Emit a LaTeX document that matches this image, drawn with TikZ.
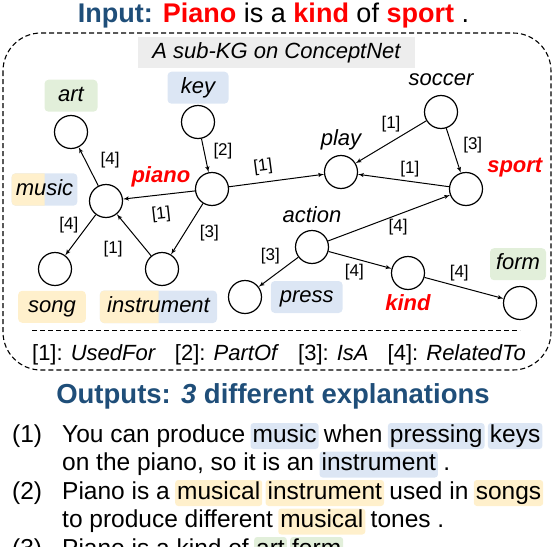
\documentclass[tikz,border=0pt]{standalone}
\usepackage{fontspec}
\setmainfont{Liberation Sans}
\usetikzlibrary{arrows,positioning,backgrounds}
\definecolor{titleblue}{HTML}{1F4E79}
\definecolor{hlblue}{HTML}{DCE6F4}
\definecolor{hlorange}{HTML}{FFF0CC}
\definecolor{hlgreen}{HTML}{E2EFDA}
\definecolor{kggray}{HTML}{EDEDED}
\tikzset{every picture/.style={
  >=latex'                      % LaTeX style arrows.
  }
}
\newcommand{\hot}[1]{\textcolor{red}{\textbf{#1}}}

\begin{document}
\begin{tikzpicture}[x=1pt,y=-1pt,
  ent/.style={circle, draw, line width=1.2pt, minimum size=33pt, inner sep=0pt},
  word/.style={font=\fontsize{22}{26}\selectfont\itshape, inner sep=1pt,
    text height=16pt, text depth=5pt},
  keyword/.style={word, text=red, font=\fontsize{22}{26}\selectfont\bfseries\itshape},
  tag/.style={word, rounded corners=4pt, inner xsep=8pt, inner ysep=5.5pt},
  rel/.style={font=\fontsize{17}{20}\selectfont, inner sep=1pt},
  link/.style={->, line width=1pt},
  txt/.style={anchor=base west, inner sep=0pt, font=\fontsize{24.5}{29}\selectfont},
  hl/.style={txt, rounded corners=3pt, inner xsep=2pt, inner ysep=2pt,
    text height=17pt, text depth=5pt}]
  \useasboundingbox (0,0) rectangle (554,546);
  \clip (0,0) rectangle (554,546);

  % input sentence
  \node[font=\fontsize{27}{32}\selectfont, anchor=base] (input) at (273.5,22)
    {\textcolor{titleblue}{\textbf{Input:}} \hot{Piano} is a \hot{kind} of \hot{sport} .};

  % sub-KG frame
  \draw[line width=1.1pt, dash pattern=on 5pt off 3pt, rounded corners=38pt]
    (3,33) rectangle (551,370);
  \node[word, fill=kggray, inner xsep=14.5pt, inner ysep=5pt] (kgtitle) at (276.5,52.5)
    {A sub-KG on ConceptNet};

  % concepts
  \node[ent] (art) at (71,132) {};
  \node[ent] (key) at (198,122) {};
  \node[ent] (music) at (106,201) {};
  \node[ent] (piano) at (212,189) {};
  \node[ent] (song) at (55,269) {};
  \node[ent] (instrument) at (162,269) {};
  \node[ent] (press) at (245,297) {};
  \node[ent] (action) at (312,247) {};
  \node[ent] (kind) at (408,273) {};
  \node[ent] (form) at (520,303) {};
  \node[ent] (play) at (341,172) {};
  \node[ent] (soccer) at (441,112) {};
  \node[ent] (sport) at (466,189) {};

  % concept names
  \node[tag, fill=hlgreen, minimum width=53pt] (artlab) [above=3pt of art] {art};
  \node[tag, fill=hlblue, minimum width=61pt] (keylab) [above=1pt of key] {key};
  \node[tag, inner xsep=4pt] (muslab) at (44.5,189.5) {music};
  \node[tag, fill=hlorange, inner xsep=10pt] (songlab) [below=4.5pt of song, xshift=-3pt] {song};
  \node[tag, inner xsep=7pt] (inslab) [below=4.5pt of instrument, xshift=-3.5pt] {instrument};
  \node[tag, fill=hlblue, inner xsep=9pt] (presslab) [right=8.5pt of press] {press};
  \node[tag, fill=hlgreen, inner xsep=6pt] (formlab) [above=5.5pt of form, xshift=-2pt] {form};
  \node[word] (actionlab) [above=1pt of action] {action};
  \node[word] (playlab) [above=3pt of play] {play};
  \node[word] (soccerlab) [above=3pt of soccer] {soccer};
  \node[keyword] (pianolab) [left=3.5pt of piano, yshift=12pt] {piano};
  \node[keyword] (kindlab) [below=3pt of kind] {kind};
  \node[keyword] (sportlab) [right=3pt of sport, yshift=22pt] {sport};
  \begin{scope}[on background layer]
    \fill[hlblue, rounded corners=4pt] (muslab.north west) rectangle (muslab.south east);
    \fill[hlblue, rounded corners=4pt] (inslab.north west) rectangle (inslab.south east);
    \begin{scope}
      \clip (muslab.north west) rectangle (muslab.south);
      \fill[hlorange, rounded corners=4pt] (muslab.north west) rectangle (muslab.south east);
    \end{scope}
    \begin{scope}
      \clip (inslab.north west) rectangle (inslab.south);
      \fill[hlorange, rounded corners=4pt] (inslab.north west) rectangle (inslab.south east);
    \end{scope}
  \end{scope}

  % relations
  \draw[link] (music) -- node[rel, pos=0.67, right=14pt] {[4]} (art);
  \draw[link] (music) -- node[rel, pos=0.26, left=8pt] {[4]} (song);
  \draw[link] (instrument) -- node[rel, pos=0.15, left=22pt] {[1]} (music);
  \draw[link] (piano) -- node[rel, sloped, pos=0.5, below=10pt] {[1]} (music);
  \draw[link] (piano) -- node[rel, pos=0.58, right=14pt] {[3]} (instrument);
  \draw[link] (key) -- node[rel, pos=0.36, right=8pt] {[2]} (piano);
  \draw[link] (piano) -- node[rel, sloped, pos=0.38, above=6pt] {[1]} (play);
  \draw[link] (soccer) -- node[rel, pos=0.5, above=8pt] {[1]} (play);
  \draw[link] (soccer) -- node[rel, pos=0.38, right=10pt] {[3]} (sport);
  \draw[link] (sport) -- node[rel, pos=0.43, above=3pt] {[1]} (play);
  \draw[link] (action) -- node[rel, pos=0.575, below=3pt] {[4]} (sport);
  \draw[link] (action) -- node[rel, pos=0.43, above left=4pt and 0pt] {[3]} (press);
  \draw[link] (action) -- node[rel, pos=0.41, below=4pt] {[4]} (kind);
  \draw[link] (kind) -- node[rel, pos=0.44, above=4pt] {[4]} (form);

  % legend
  \draw[line width=1pt, dash pattern=on 5pt off 3pt] (32,330) -- (520,330);
  \node[font=\fontsize{22}{26}\selectfont, anchor=base] (legend) at (279,360)
    {[1]: \textit{UsedFor}\hspace{19pt}[2]: \textit{PartOf}\hspace{19pt}[3]: \textit{IsA}\hspace{19pt}[4]: \textit{RelatedTo}};

  % outputs
  \node[font=\fontsize{27.5}{32}\selectfont\bfseries, text=titleblue, anchor=base] (outtitle)
    at (273,403) {Outputs: \textit{3} different explanations};

  \node[txt] (n1) at (12,442) {(1)};
  \node[txt] (o1a) at (62,442) {You can produce};
  \node[hl, fill=hlblue] (o1b) at ([xshift=5pt]o1a.base east) {music};
  \node[txt] (o1c) at ([xshift=5pt]o1b.base east) {when};
  \node[hl, fill=hlblue] (o1d) at ([xshift=5pt]o1c.base east) {pressing};
  \node[hl, fill=hlblue] (o1e) at ([xshift=3pt]o1d.base east) {keys};
  \node[txt] (o2a) at (62,470.5) {on the piano, so it is an};
  \node[hl, fill=hlblue] (o2b) at ([xshift=5pt]o2a.base east) {instrument};
  \node[txt] (o2c) at ([xshift=5pt]o2b.base east) {.};

  \node[txt] (n2) at (12,499) {(2)};
  \node[txt] (o3a) at (62,499) {Piano is a};
  \node[hl, fill=hlorange] (o3b) at ([xshift=5pt]o3a.base east) {musical};
  \node[hl, fill=hlorange] (o3c) at ([xshift=3pt]o3b.base east) {instrument};
  \node[txt] (o3d) at ([xshift=5pt]o3c.base east) {used in};
  \node[hl, fill=hlorange] (o3e) at ([xshift=5pt]o3d.base east) {songs};
  \node[txt] (o4a) at (62,527.5) {to produce different};
  \node[hl, fill=hlorange] (o4b) at ([xshift=5pt]o4a.base east) {musical};
  \node[txt] (o4c) at ([xshift=5pt]o4b.base east) {tones .};

  \node[txt] (n3) at (12,556) {(3)};
  \node[txt] (o5a) at (62,556) {Piano is a kind of};
  \node[hl, fill=hlgreen] (o5b) at ([xshift=5pt]o5a.base east) {art};
  \node[hl, fill=hlgreen] (o5c) at ([xshift=3pt]o5b.base east) {form};
\end{tikzpicture}
\end{document}
